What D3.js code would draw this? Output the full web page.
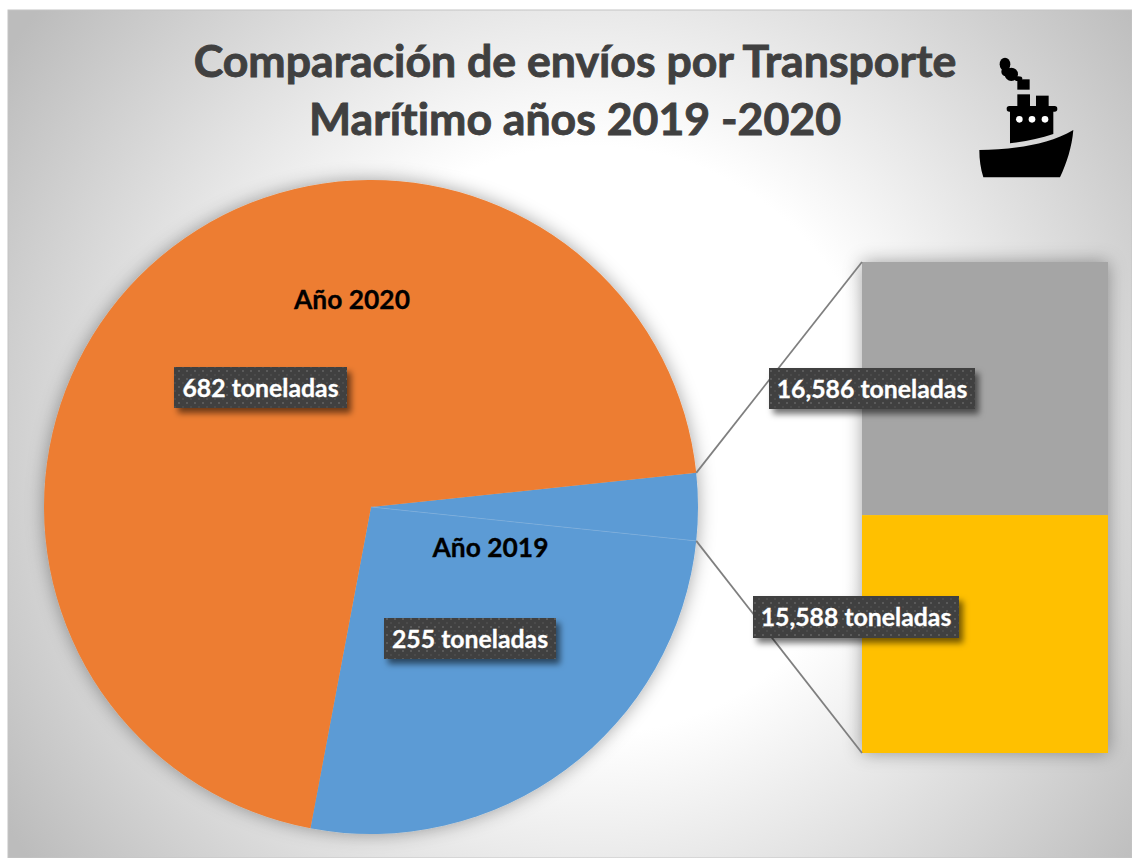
<!DOCTYPE html>
<html>
<head>
<meta charset="utf-8">
<script src="https://cdnjs.cloudflare.com/ajax/libs/d3/7.8.5/d3.min.js"></script>
<style>
html, body { margin: 0; padding: 0; background: #fff; }
svg { display: block; font-family: Lato, "Open Sans", sans-serif; font-variant-ligatures: none; }
</style>
</head>
<body>
<svg id="chart" width="1132" height="858"></svg>
<script>
// data
var pieLabels = ['Año 2019 detalle', 'Año 2019', 'Año 2020'];
var pieValues = [32.174, 255, 682];
var pieColors = ['#5b9bd5', '#5b9bd5', '#ed7d31'];
var barLabels = ['16,586 toneladas', '15,588 toneladas'];
var barValues = [16586, 15588];
var barColors = ['#a5a5a5', '#ffc000'];
var titleLines = ['Comparación de envíos por Transporte', 'Marítimo años 2019 -2020'];

var svg = d3.select('#chart');
var defs = svg.append('defs');

// background
var bg = defs.append('radialGradient').attr('id', 'bg')
    .attr('gradientUnits', 'userSpaceOnUse')
    .attr('cx', 590).attr('cy', 440).attr('r', 700);
bg.append('stop').attr('offset', '0').attr('stop-color', '#ffffff');
bg.append('stop').attr('offset', '0.42').attr('stop-color', '#ffffff');
bg.append('stop').attr('offset', '1').attr('stop-color', '#bcbcbc');

// soft shadow for pie and bars
var soft = defs.append('filter').attr('id', 'soft')
    .attr('x', '-10%').attr('y', '-10%').attr('width', '120%').attr('height', '120%');
soft.append('feGaussianBlur').attr('in', 'SourceAlpha').attr('stdDeviation', 9).attr('result', 'b');
soft.append('feFlood').attr('flood-color', '#000').attr('flood-opacity', 0.36);
soft.append('feComposite').attr('in2', 'b').attr('operator', 'in').attr('result', 's');
var softMerge = soft.append('feMerge');
softMerge.append('feMergeNode').attr('in', 's');
softMerge.append('feMergeNode').attr('in', 'SourceGraphic');

// label shadow
var ls = defs.append('filter').attr('id', 'labelShadow')
    .attr('x', '-10%').attr('y', '-20%').attr('width', '125%').attr('height', '150%');
ls.append('feDropShadow').attr('dx', 4).attr('dy', 5).attr('stdDeviation', 3)
    .attr('flood-color', '#000').attr('flood-opacity', 0.55);

// dotted label fill
var dots = defs.append('pattern').attr('id', 'dots')
    .attr('patternUnits', 'userSpaceOnUse').attr('width', 8).attr('height', 8);
dots.append('rect').attr('width', 8).attr('height', 8).attr('fill', '#3f3f3f');
dots.append('rect').attr('x', 2).attr('y', 2).attr('width', 2).attr('height', 2).attr('fill', '#5a5a5a');
dots.append('rect').attr('x', 6).attr('y', 6).attr('width', 2).attr('height', 2).attr('fill', '#4c4c4c');

svg.append('rect').attr('x', 8).attr('y', 10).attr('width', 1124).attr('height', 848)
    .attr('fill', 'url(#bg)').attr('stroke', '#c4c4c4').attr('stroke-width', 1);

// title
svg.append('g').selectAll('text').data(titleLines).enter().append('text')
    .attr('x', 575)
    .attr('y', (d, i) => 77 + i * 58)
    .attr('text-anchor', 'middle')
    .attr('font-size', 44.6)
    .attr('font-weight', 700)
    .attr('fill', '#404040')
    .attr('stroke', '#404040')
    .attr('stroke-width', 0.9)
    .text(d => d);

// pie
var cx = 371, cy = 507, radius = 327;
var startAngle = 84 * Math.PI / 180;
var pie = d3.pie().sort(null).startAngle(startAngle).endAngle(startAngle + 2 * Math.PI);
var arcs = pie(pieValues);
var arc = d3.arc().innerRadius(0).outerRadius(radius);

var pieG = svg.append('g').attr('transform', 'translate(' + cx + ',' + cy + ')').attr('filter', 'url(#soft)');
pieG.selectAll('path').data(arcs).enter().append('path')
    .attr('d', arc)
    .attr('fill', (d, i) => pieColors[i]);

// thin line between the two blue slices
pieG.append('line')
    .attr('x1', 0).attr('y1', 0)
    .attr('x2', radius * Math.sin(arcs[0].endAngle))
    .attr('y2', -radius * Math.cos(arcs[0].endAngle))
    .attr('stroke', '#84b4e0').attr('stroke-width', 0.6);

// bar of pie
var barTop = 262, barBottom = 753;
var y = d3.scaleLinear().domain([0, d3.sum(barValues)]).range([barTop, barBottom]);
var x0 = 862, barW = 246;
var stack = d3.cumsum(barValues);
var barG = svg.append('g').attr('filter', 'url(#soft)');
barG.selectAll('rect').data(barValues).enter().append('rect')
    .attr('x', x0)
    .attr('y', (d, i) => y(stack[i] - d))
    .attr('width', barW)
    .attr('height', d => y(d) - y(0))
    .attr('fill', (d, i) => barColors[i]);

// connector lines
var connectors = [
    [arcs[0].startAngle, barTop],
    [arcs[0].endAngle, barBottom]
];
svg.append('g').selectAll('line').data(connectors).enter().append('line')
    .attr('x1', d => cx + radius * Math.sin(d[0]))
    .attr('y1', d => cy - radius * Math.cos(d[0]))
    .attr('x2', x0)
    .attr('y2', d => d[1])
    .attr('stroke', '#7f7f7f')
    .attr('stroke-width', 1.8);

// year labels
var yearLabels = [
    { text: 'Año 2020', x: 352, y: 309 },
    { text: 'Año 2019', x: 490.5, y: 557 }
];
svg.append('g').selectAll('text').data(yearLabels).enter().append('text')
    .attr('x', d => d.x).attr('y', d => d.y)
    .attr('text-anchor', 'middle')
    .attr('font-size', 26.4).attr('font-weight', 700).attr('fill', '#000')
    .attr('stroke', '#000').attr('stroke-width', 0.3)
    .text(d => d.text);

// value labels
var valueLabels = [
    { text: pieValues[2] + ' toneladas', x: 174, y: 367, w: 173, h: 41 },
    { text: pieValues[1] + ' toneladas', x: 384, y: 618, w: 172, h: 41 },
    { text: barLabels[0], x: 769, y: 368, w: 206, h: 41 },
    { text: barLabels[1], x: 753, y: 596, w: 206, h: 42 }
];
var lab = svg.append('g').selectAll('g').data(valueLabels).enter().append('g');
lab.append('rect')
    .attr('x', d => d.x).attr('y', d => d.y)
    .attr('width', d => d.w).attr('height', d => d.h)
    .attr('fill', 'url(#dots)')
    .attr('filter', 'url(#labelShadow)');
lab.append('text')
    .attr('x', d => d.x + d.w / 2)
    .attr('y', d => d.y + 30)
    .attr('text-anchor', 'middle')
    .attr('font-size', 24.8).attr('font-weight', 700).attr('fill', '#fff')
    .attr('stroke', '#fff').attr('stroke-width', 0.3)
    .text(d => d.text);

// ship icon
var ship = svg.append('g').attr('transform', 'translate(950,40) scale(0.3333)').attr('fill', '#000');
ship.append('path').attr('d', 'M88 330 C180 328 290 318 370 270 C366 320 350 370 330 412 L100 412 C92 385 88 360 88 330 Z');
ship.append('path').attr('d', 'M180 212 L310 212 L310 282 C270 296 225 304 180 310 Z');
ship.append('rect').attr('x', 170).attr('y', 198).attr('width', 152).attr('height', 17).attr('rx', 8);
ship.append('rect').attr('x', 202).attr('y', 163).attr('width', 38).attr('height', 40);
ship.append('rect').attr('x', 258).attr('y', 167).attr('width', 38).attr('height', 36);
ship.append('rect').attr('x', 202).attr('y', 118).attr('width', 37).attr('height', 31);
// smoke
ship.append('ellipse').attr('cx', 165).attr('cy', 73).attr('rx', 16).attr('ry', 20);
ship.append('circle').attr('cx', 168).attr('cy', 95).attr('r', 14);
ship.append('circle').attr('cx', 184).attr('cy', 103).attr('r', 20);
ship.append('ellipse').attr('cx', 205).attr('cy', 116).attr('rx', 12).attr('ry', 7);
[208, 246, 285].forEach(function (wx) {
    ship.append('circle').attr('cx', wx).attr('cy', 238).attr('r', 10).attr('fill', '#fff');
});
</script>
</body>
</html>
